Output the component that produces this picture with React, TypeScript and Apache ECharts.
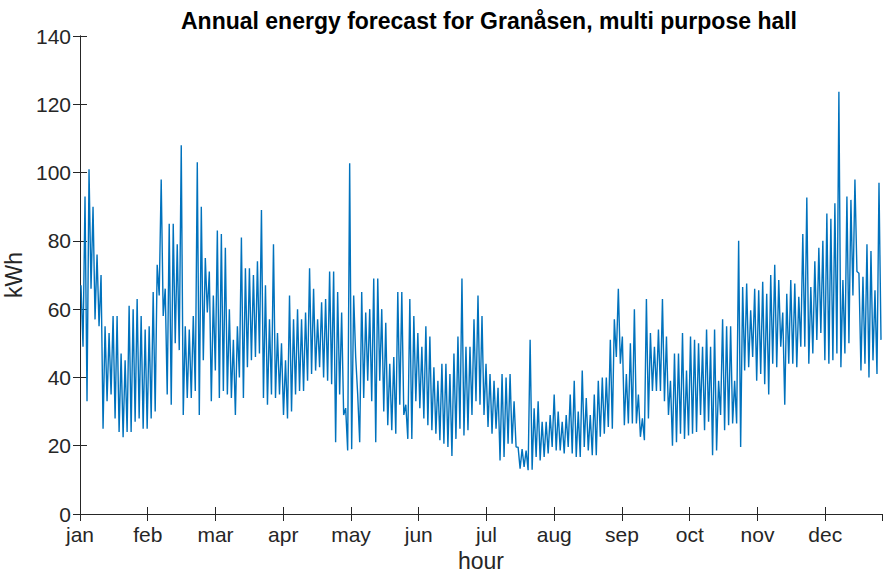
import React, { useEffect, useRef } from "react";
import * as echarts from "echarts";

// Month tick labels (ticks every 740 h on an hourly axis 0..8760)
const monthLabels = ["jan", "feb", "mar", "apr", "may", "jun", "jul", "aug", "sep", "oct", "nov", "dec"];
const yTicks = [0, 20, 40, 60, 80, 100, 120, 140];

// Hourly load read off the picture as 200 consecutive blocks (~44 h each):
// the highest and lowest value in each block (kWh)
const blockHigh = [
  67, 93, 101, 90, 76, 70, 55, 53, 58, 58, 47, 45, 61, 60, 63, 58, 54, 55, 65, 73, 98, 66, 85, 85, 79,
  108, 55, 54, 58, 103, 90, 75, 71, 64, 83, 82, 78, 60, 51, 55, 81, 72, 72, 70, 74, 89, 67, 57, 79, 53,
  50, 45, 64, 57, 60, 57, 59, 72, 66, 57, 62, 63, 71, 71, 65, 59, 31, 102.7, 64, 35, 65, 59, 60, 69, 69,
  60, 56, 44, 46, 65, 65, 32, 63, 58, 53, 49, 55, 52, 43, 39, 44, 44, 41, 47, 52, 69, 49, 49, 57, 64,
  58, 44, 41, 39, 37, 41, 40, 41, 33, 19.6, 19, 18.6, 51, 31, 33, 27, 27, 29, 35, 30, 27, 29, 35, 39, 30,
  42, 34, 29, 35, 39, 40, 40, 51, 57, 66, 52, 41, 50, 60, 35, 28, 63, 53, 49, 54, 63, 52, 39, 47, 47,
  53, 42, 52, 51, 50, 49, 54, 49, 54, 39, 57, 55, 55, 39, 80, 66.5, 67.5, 59.7, 66, 65.5, 68, 64.5, 70, 73, 68.5,
  59, 64.5, 68.5, 67.5, 63.6, 82, 92.7, 66.5, 74, 78, 80, 88, 86.5, 91, 123.7, 68.5, 93, 92, 98, 70.5, 69.5, 79, 77, 65.5, 97,
];
const blockLow = [
  49, 33, 66, 57, 55, 25, 33, 35, 28, 24, 22.5, 24, 24, 27, 28, 25, 25, 28, 30, 64, 58, 35, 32, 50, 48,
  29, 34, 34, 36, 29, 45, 59, 33, 42, 34, 36, 35, 34, 29, 40, 34, 43, 45, 46, 47, 34, 32, 35, 34, 35,
  29, 28, 30, 35, 36, 36, 39, 41, 42, 43, 40, 39, 38, 21, 35, 29, 18.6, 19, 46, 21, 34, 39, 33, 21, 39,
  30, 26, 24.5, 23.5, 32, 29, 22, 22, 33, 31, 28, 26, 24.5, 23.5, 21.6, 20.6, 19.6, 17, 22, 25, 23, 24.5, 29, 33, 32,
  29, 25.5, 23.5, 25, 15.7, 16.7, 20.6, 20.6, 19.6, 13.3, 13.8, 12.8, 13, 16.7, 15.7, 16.7, 17.7, 19.6, 18.6, 18.6, 17.7, 19.6, 17.7, 16.7, 16.7,
  19.6, 18.6, 17.2, 17.2, 22.6, 23.5, 25.5, 25, 46, 44, 26, 26.5, 26.5, 26.5, 22.6, 21.6, 28, 36, 36, 36, 33, 29, 20, 21, 23.5,
  22, 23, 23.5, 24, 29, 24.5, 27, 17.2, 18.6, 29, 24.5, 26, 26.5, 26.5, 19.6, 42, 43, 46, 39, 41, 38, 35, 44, 43, 49,
  32, 44, 44, 43, 49, 49, 44, 47, 51, 53, 45, 44, 45, 47, 43, 47, 50, 64, 71, 42, 44, 40, 45, 41, 51,
];

const HOURS = 8760;
const TICK_STEP = 740;

export default function App() {
  const ref = useRef<HTMLDivElement>(null);

  useEffect(() => {
    if (!ref.current) return;
    const chart = echarts.init(ref.current, null, { renderer: "svg" });
    const n = blockHigh.length;
    const w = HOURS / n;
    const data: [number, number][] = [];
    for (let i = 0; i < n; i++) {
      data.push([(i + 0.25) * w, blockHigh[i]]);
      data.push([(i + 0.75) * w, blockLow[i]]);
    }
    const axisColor = "#262626";
    const font = "'Liberation Sans', Helvetica, Arial, sans-serif";
    chart.setOption({
      animation: false,
      backgroundColor: "#ffffff",
      title: {
        text: "Annual energy forecast for Granåsen, multi purpose hall",
        left: 484,
        textAlign: "center",
        top: 4,
        textStyle: { fontFamily: font, fontSize: 23, fontWeight: "bold", color: "#000" },
      },
      grid: { left: 80, right: 1, top: 36, bottom: 59, containLabel: false, outerBoundsMode: "none" },
      xAxis: [
        {
          type: "value",
          min: 0,
          max: HOURS,
          interval: TICK_STEP,
          name: "hour",
          nameLocation: "middle",
          nameGap: 33,
          nameTextStyle: { fontFamily: font, fontSize: 23, color: axisColor },
          axisLine: { show: true, lineStyle: { color: axisColor, width: 1 } },
          axisTick: { show: true, inside: true, length: 7, lineStyle: { color: axisColor } },
          axisLabel: {
            fontFamily: font,
            fontSize: 21,
            color: axisColor,
            margin: 10,
            showMaxLabel: false,
            formatter: (v: number) => monthLabels[Math.round(v / TICK_STEP)] ?? "",
          },
          splitLine: { show: false },
        },
        {
          type: "value",
          position: "top",
          min: 0,
          max: HOURS,
          interval: TICK_STEP,
          axisLine: { show: true, lineStyle: { color: axisColor, width: 1 } },
          axisTick: { show: true, inside: true, length: 7, lineStyle: { color: axisColor } },
          axisLabel: { show: false },
          splitLine: { show: false },
        },
      ],
      yAxis: [
        {
          type: "value",
          min: yTicks[0],
          max: yTicks[yTicks.length - 1],
          interval: 20,
          name: "kWh",
          nameLocation: "middle",
          nameGap: 48,
          nameRotate: 90,
          nameTextStyle: { fontFamily: font, fontSize: 23, color: axisColor },
          axisLine: { show: true, lineStyle: { color: axisColor, width: 1 } },
          axisTick: { show: true, inside: true, length: 7, lineStyle: { color: axisColor } },
          axisLabel: { fontFamily: font, fontSize: 21, color: axisColor, margin: 9 },
          splitLine: { show: false },
        },
        {
          type: "value",
          position: "right",
          min: yTicks[0],
          max: yTicks[yTicks.length - 1],
          interval: 20,
          axisLine: { show: true, lineStyle: { color: axisColor, width: 1 } },
          axisTick: { show: true, inside: true, length: 7, lineStyle: { color: axisColor } },
          axisLabel: { show: false },
          splitLine: { show: false },
        },
      ],
      series: [
        {
          type: "line",
          data,
          xAxisIndex: 0,
          yAxisIndex: 0,
          showSymbol: false,
          symbol: "none",
          lineStyle: { color: "#0072BD", width: 1.4 },
        },
      ],
    });
    return () => chart.dispose();
  }, []);

  return (
    <div
      ref={ref}
      style={{ position: "fixed", left: 0, top: 0, width: 883, height: 573, background: "#fff" }}
    />
  );
}
